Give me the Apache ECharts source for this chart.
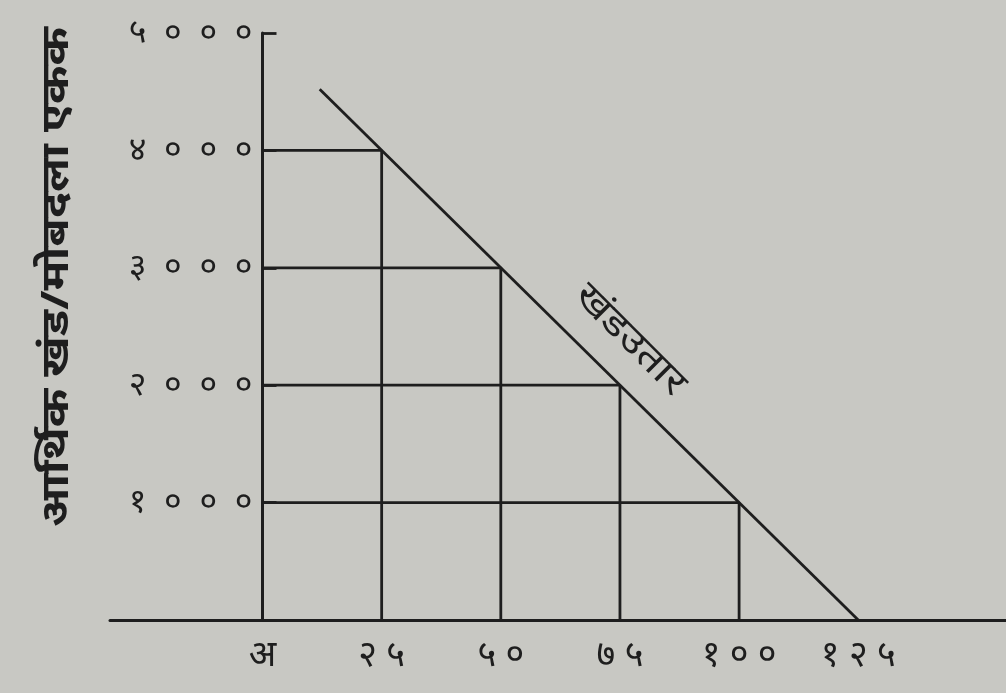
<!DOCTYPE html>
<html>
<head>
<meta charset="utf-8">
<style>
  html, body { margin: 0; padding: 0; background: #c8c8c3; }
  #main { width: 1006px; height: 693px; }
</style>
<script src="https://cdn.jsdelivr.net/npm/echarts@6/dist/echarts.min.js"></script>
</head>
<body>
<div id="main"></div>
<script>
const chartDom = document.getElementById('main');
const myChart = echarts.init(chartDom);

// x ticks and their labels (Devanagari)
let xTicks = [0, 25, 50, 75, 100, 125];
let xTickLabels = ['अ', '२ ५', '५ ०', '७ ५', '१ ० ०', '१ २ ५'];
// y tick labels
let yTicks = [1000, 2000, 3000, 4000, 5000];
let yTickLabels = ['१  ०  ०  ०', '२  ०  ०  ०', '३  ०  ०  ०', '४  ०  ०  ०', '५  ०  ०  ०'];
// the sloping line (खंडउतार)
let lineX = [12, 125];
let lineY = [4520, 0];
// corners of the boxes under the line
let cornerX = [25, 50, 75, 100];
let cornerY = [4000, 3000, 2000, 1000];

const ink = '#1e1e1e';
const font = "'Noto Sans', 'DejaVu Sans', sans-serif";

let series = [
    {
        name: 'खंडउतार',
        type: 'line',
        symbol: 'none',
        lineStyle: { color: ink, width: 2.8 },
        data: lineX.map((x, i) => [x, lineY[i]]),
        z: 5
    }
];
// each corner gives one horizontal and one vertical segment
cornerX.forEach((x, i) => {
    series.push({
        type: 'line',
        symbol: 'none',
        silent: true,
        lineStyle: { color: ink, width: 2.8 },
        data: [[0, cornerY[i]], [x, cornerY[i]], [x, 0]]
    });
});

let option = {
    backgroundColor: '#c8c8c3',
    animation: false,
    grid: { left: 110, right: 0, top: 33, bottom: 73 },
    xAxis: {
        type: 'value',
        min: -32,
        max: 156,
        splitLine: { show: false },
        axisLine: { lineStyle: { color: ink, width: 3 } },
        axisTick: { show: false },
        axisLabel: {
            customValues: xTicks,
            color: ink,
            fontSize: 36,
            fontFamily: font,
            margin: 18,
            formatter: function (v) {
                let i = xTicks.indexOf(v);
                return i >= 0 ? xTickLabels[i] : '';
            }
        }
    },
    yAxis: {
        type: 'value',
        min: 0,
        max: 5000,
        interval: 1000,
        offset: -152.5,
        splitLine: { show: false },
        axisLine: { show: true, onZero: false, lineStyle: { color: ink, width: 3 } },
        axisTick: { show: true, inside: true, length: 14, lineStyle: { color: ink, width: 2.8 } },
        axisLabel: {
            color: ink,
            fontSize: 34,
            fontFamily: font,
            margin: 10,
            formatter: function (v) {
                let i = yTicks.indexOf(v);
                return i >= 0 ? yTickLabels[i] : '';
            }
        }
    },
    graphic: [
        {
            type: 'text',
            x: 57,
            y: 277,
            rotation: Math.PI / 2,
            scaleX: 1.22,
            style: {
                text: 'आर्थिक खंड/मोबदला एकक',
                fill: ink,
                font: "bold 38px " + font,
                align: 'center',
                verticalAlign: 'middle'
            }
        },
        {
            type: 'text',
            x: 630,
            y: 340,
            rotation: -Math.PI / 4,
            scaleX: 1.25,
            style: {
                text: 'खंडउतार',
                fill: ink,
                font: "36px " + font,
                align: 'center',
                verticalAlign: 'middle'
            }
        }
    ],
    series: series
};

myChart.setOption(option);
</script>
</body>
</html>
